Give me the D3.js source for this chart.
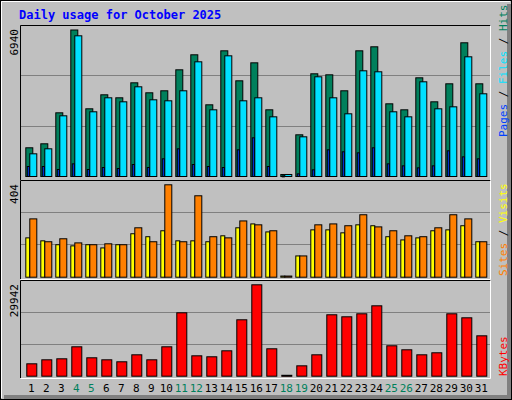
<!DOCTYPE html>
<html><head><meta charset="utf-8">
<script src="https://cdn.jsdelivr.net/npm/d3@7"></script>
<style>body{margin:0;background:#fff}svg{display:block}text{font-family:"DejaVu Sans Mono",monospace}</style>
</head><body><svg id="canvas" width="512" height="400"></svg>
<script>
let days = d3.range(1, 32);
let weekend = [4, 5, 11, 12, 18, 19, 25, 26];
let hits = [1360,1549,3017,6940,3207,3870,3728,4438,3965,4060,5054,5765,3396,5954,4533,5385,3159,95,1975,4865,4817,4060,5954,6144,3443,3159,4675,3538,4391,6334,4391];
let files = [1075,1312,2875,6665,3065,3728,3538,4249,3633,3586,4060,5433,3159,5717,3586,3728,2827,95,1880,4723,3728,2970,5007,4960,3065,2827,4486,3207,3301,5670,3918];
let pages = [474,474,332,600,332,426,379,568,426,838,1312,568,474,426,1264,1833,474,30,126,316,1264,1170,1122,1360,600,505,410,505,1217,931,838];
let sites = [172,159,142,137,142,128,142,190,177,203,159,159,155,181,216,233,198,5,93,207,207,194,229,225,177,163,172,203,207,225,155];
let visits = [255,155,168,150,142,146,142,216,155,404,155,356,177,172,246,229,203,5,93,229,233,225,273,220,203,181,177,216,273,255,155];
let kbytes = [4060,5370,5700,9630,6030,5370,4720,7010,5370,9630,20770,6680,6360,8320,18480,29942,8980,300,3400,7010,20120,19460,20440,23060,9960,8650,7010,7670,20440,19130,13230];

let canvas = d3.select('#canvas');

// background with bevel
canvas.append('rect').attr('x', 0).attr('y', 0).attr('width', 512).attr('height', 400).attr('fill', '#c0c0c0');
canvas.append('rect').attr('x', 507).attr('y', 4).attr('width', 4).attr('height', 395).attr('fill', '#808080');
canvas.append('rect').attr('x', 4).attr('y', 395).attr('width', 507).attr('height', 4).attr('fill', '#808080');
canvas.append('path').attr('d', 'M1.5,398V1.5H510').attr('stroke', '#fff').attr('fill', 'none');
canvas.append('rect').attr('x', 0.5).attr('y', 0.5).attr('width', 511).attr('height', 399).attr('fill', 'none').attr('stroke', '#000');

canvas.append('text').attr('x', 19).attr('y', 19).attr('fill', '#0000ff')
    .style('font-weight', 'bold').style('font-size', '12px').text('Daily usage for October 2025');

let x = d3.scaleLinear().domain([1, 31]).range([25.3, 475.3]);

let panels = [
    {top: 25, bot: 180, base: 176, maxY: 29.5, max: d3.max(hits)},
    {top: 180, bot: 279, base: 276.7, maxY: 184.3, max: d3.max(visits)},
    {top: 280, bot: 378, base: 375.7, maxY: 284.3, max: d3.max(kbytes)}
];

let drawBars = (data, yScale, off, w, color) => {
    canvas.append('g').selectAll('rect')
        .data(data)
        .enter()
        .append('rect')
        .attr('x', (d, i) => x(days[i]) + off + 0.5)
        .attr('y', (d) => yScale(d) + 0.5)
        .attr('width', w)
        .attr('height', (d) => Math.max(1, yScale(0) - yScale(d)))
        .attr('fill', color)
        .attr('stroke', '#000');
};

panels.forEach((p, k) => {
    let y = d3.scaleLinear().domain([0, p.max]).range([p.base, p.maxY]);
    p.y = y;
    let h = p.base - p.top;
    [1, 2].forEach((j) => {
        let gy = Math.round(p.base - h * j / 3) + 0.5;
        canvas.append('line').attr('x1', 20).attr('x2', 490).attr('y1', gy).attr('y2', gy).attr('stroke', '#808080');
    });
    canvas.append('path').attr('d', `M20.5,${p.bot}V${p.top + 0.5}H490.5`).attr('stroke', '#000').attr('fill', 'none');
    canvas.append('path').attr('d', `M20.5,${p.bot + 0.5}H490.5V${p.top + 0.5}`).attr('stroke', '#fff').attr('fill', 'none');
    canvas.append('text').attr('transform', `translate(18,${p.top + 4}) rotate(-90)`)
        .attr('text-anchor', 'end').style('font-size', '11px').attr('fill', '#000')
        .text(p.max);
});

drawBars(hits, panels[0].y, 0, 7, '#00805c');
drawBars(files, panels[0].y, 4, 7, '#00e0ff');
drawBars(pages, panels[0].y, 1.5, 2, '#0040ff');
drawBars(sites, panels[1].y, 0, 4, '#ffff00');
drawBars(visits, panels[1].y, 4, 7, '#ff8000');
drawBars(kbytes, panels[2].y, 1, 10, '#ff0000');

canvas.append('g').selectAll('text')
    .data(days)
    .enter()
    .append('text')
    .attr('x', (d) => x(d) + 6)
    .attr('y', 392)
    .attr('text-anchor', 'middle')
    .style('font-size', '11px')
    .attr('fill', (d) => weekend.includes(d) ? '#00805c' : '#000')
    .text((d) => d);

let sideLabel = (yEnd, parts) => {
    let t = canvas.append('text').attr('transform', `translate(507,${yEnd}) rotate(-90)`)
        .style('font-size', '11px');
    parts.forEach((p) => t.append('tspan').attr('fill', p[1]).text(p[0]));
};
sideLabel(137, [['Pages', '#0040ff'], [' / ', '#000'], ['Files', '#00e0ff'], [' / ', '#000'], ['Hits', '#00805c']]);
sideLabel(276, [['Sites', '#ff8000'], [' / ', '#000'], ['Visits', '#ffff00']]);
sideLabel(376, [['KBytes', '#ff0000']]);
</script>
</body></html>
